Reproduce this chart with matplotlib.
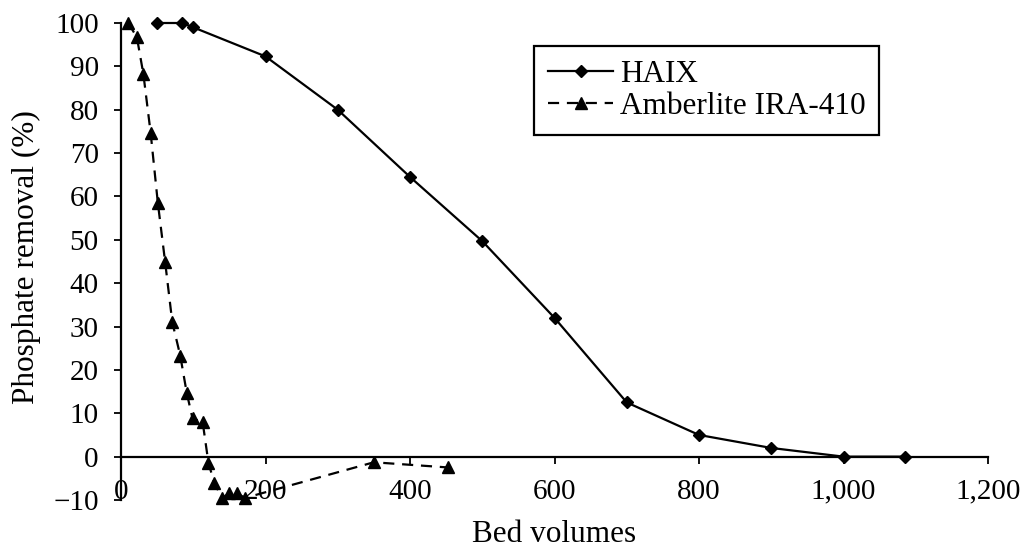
import matplotlib
matplotlib.use("Agg")
import matplotlib.pyplot as plt

# HAIX series
haix_bv = [50, 85, 100, 200, 300, 400, 500, 600, 700, 800, 900, 1000, 1085]
haix_removal = [100, 100, 99, 92.3, 80, 64.5, 49.7, 32, 12.5, 5, 2, 0, 0]

# Amberlite IRA-410 series
amb_bv = [10, 22, 31, 41, 51, 61, 71, 82, 91, 99, 113, 121, 129, 140, 150, 160, 172, 350, 453]
amb_removal = [100, 96.7, 88.2, 74.7, 58.5, 45, 31, 23.3, 14.7, 8.8, 8, -1.4, -6, -9.6, -8.4, -8.5, -9.5, -1.3, -2.5]

x_ticks = [0, 200, 400, 600, 800, 1000, 1200]
x_ticklabels = ["0", "200", "400", "600", "800", "1,000", "1,200"]
y_ticks = list(range(-10, 101, 10))

plt.rcParams['font.family'] = ['Liberation Serif', 'DejaVu Serif']
FS = 21
LFS = 22.5

fig = plt.figure(figsize=(10.31, 5.52), dpi=100)
ax = fig.add_axes([121 / 1031, 1 - 500 / 552, 867 / 1031, 477 / 552])

ax.plot(haix_bv, haix_removal, color='black', linewidth=1.6, marker='D',
        markersize=6, label='HAIX', clip_on=False)
ax.plot(amb_bv, amb_removal, color='black', linewidth=1.6, marker='^',
        markersize=8, dashes=(5, 3.5), label='Amberlite IRA-410', clip_on=False)

ax.set_xlim(0, 1200)
ax.set_ylim(-10, 100)
ax.set_xticks(x_ticks)
ax.set_xticklabels(x_ticklabels)
ax.set_yticks(y_ticks)

for s in ['top', 'right']:
    ax.spines[s].set_visible(False)
ax.spines['bottom'].set_position(('data', 0))
ax.spines['bottom'].set_linewidth(1.6)
ax.spines['left'].set_linewidth(1.6)

ax.tick_params(axis='x', direction='out', length=5, width=1.3, pad=11, labelsize=FS)
ax.tick_params(axis='y', direction='out', length=5, width=1.3, pad=11, labelsize=FS)

ax.set_xlabel('Bed volumes', fontsize=LFS)
ax.xaxis.label.set_va('center')
ax.xaxis.set_label_coords(0.5, -(534 - 500) / 477)
ax.set_ylabel('Phosphate removal (%)', fontsize=LFS)
ax.yaxis.label.set_va('center')
ax.yaxis.label.set_ha('center')
ax.yaxis.set_label_coords(-(121 - 26) / 867, (500 - 257) / 477)

leg = ax.legend(loc='upper left', bbox_to_anchor=(0.476, 0.952), fontsize=LFS,
                frameon=True, fancybox=False, edgecolor='black', framealpha=1,
                handlelength=2.1, handletextpad=0.2, labelspacing=0.1,
                borderpad=0.45, borderaxespad=0)
leg.get_frame().set_linewidth(1.6)

fig.savefig('out.png', dpi=100)
